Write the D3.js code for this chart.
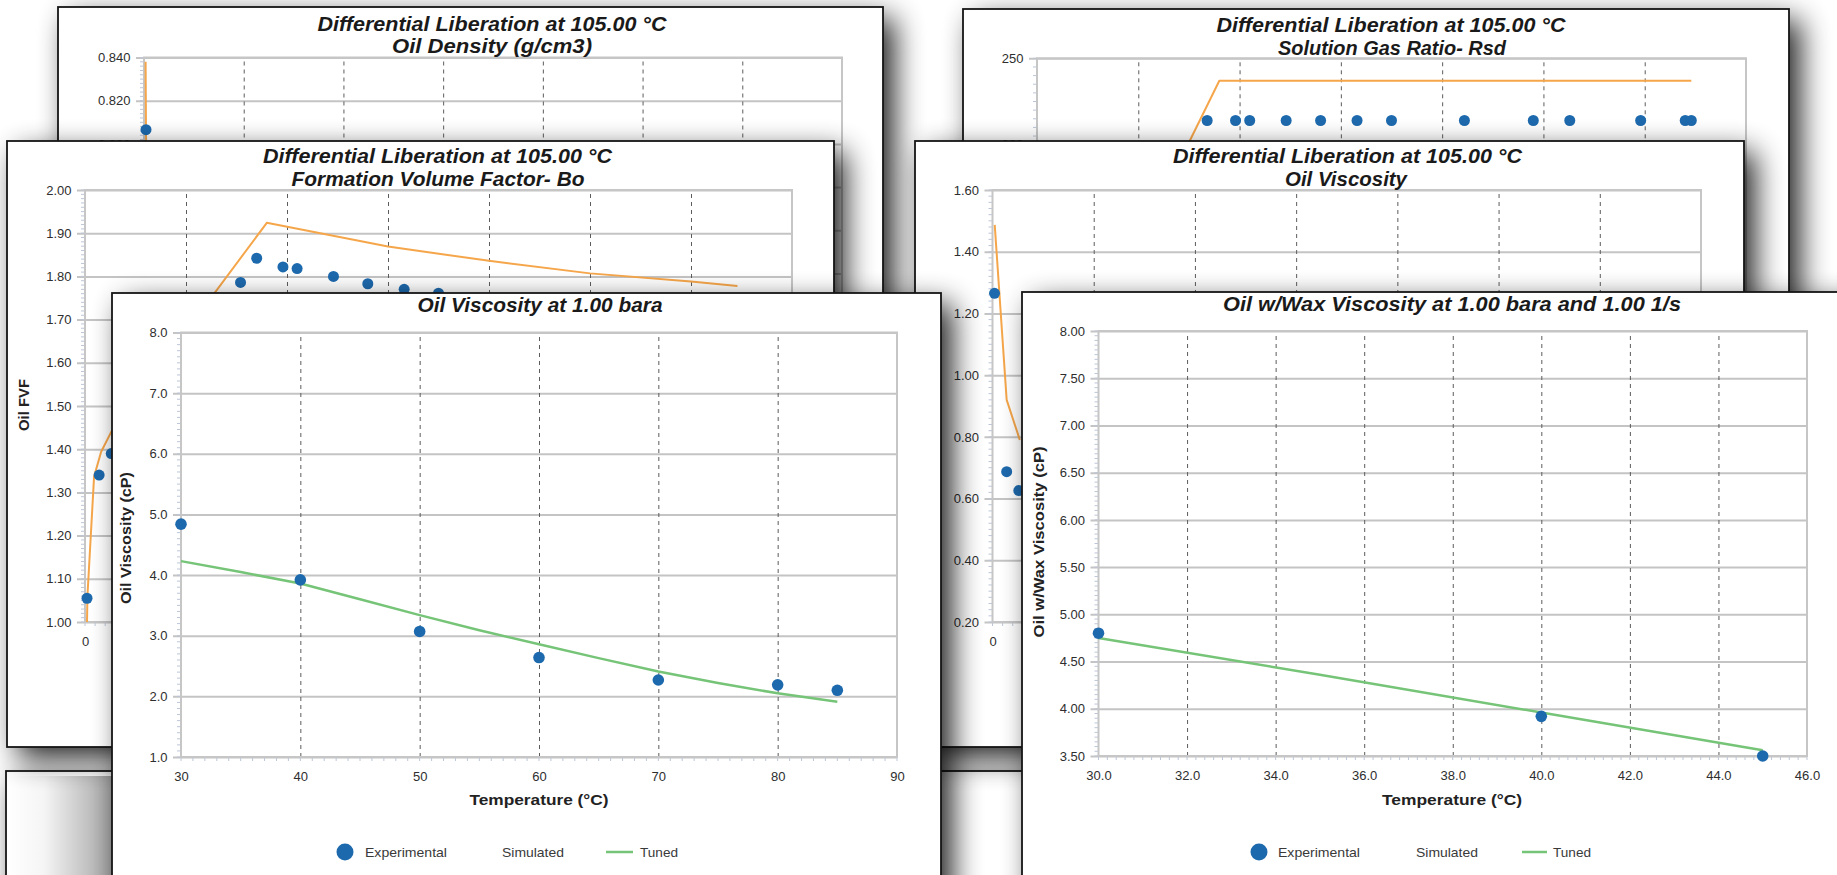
<!DOCTYPE html>
<html><head><meta charset="utf-8">
<script src="https://cdn.jsdelivr.net/npm/d3@7"></script>
<style>
html,body{margin:0;padding:0;background:#fff;overflow:hidden}
svg{display:block}
</style></head><body>
<svg id="c" width="1837" height="875"></svg>
<script>
// ================= DATA =================
// Differential liberation (x = pressure, bara)
const pressureTicks = [0, 50, 100, 150, 200, 250, 300, 350];

const densityTicks = [0.64, 0.66, 0.68, 0.70, 0.72, 0.74, 0.76, 0.78, 0.80, 0.82, 0.84];
const densityExpP = [1];
const densityExpV = [0.8066];
const densitySimP = [0.8, 1.3];
const densitySimV = [0.838, 0.760];

const boTicks = [1.0, 1.1, 1.2, 1.3, 1.4, 1.5, 1.6, 1.7, 1.8, 1.9, 2.0];
const boExpP = [1, 7, 13, 77, 85, 98, 105, 123, 140, 158, 175];
const boExpV = [1.055, 1.34, 1.39, 1.786, 1.842, 1.822, 1.818, 1.800, 1.783, 1.770, 1.761];
const boSimP = [1, 1.2, 4.5, 8, 13, 90, 150, 200, 250, 300, 323];
const boSimV = [1.00, 1.06, 1.337, 1.394, 1.44, 1.924, 1.869, 1.836, 1.807, 1.788, 1.778];

const rsdTicks = [0, 50, 100, 150, 200, 250];
const rsdExpP = [84, 98, 105, 123, 140, 158, 175, 211, 245, 263, 298, 320, 323];
const rsdExpV = [214, 214, 214, 214, 214, 214, 214, 214, 214, 214, 214, 214, 214];
const rsdSimP = [1, 90, 323];
const rsdSimV = [25, 237, 237];

const dlViscTicks = [0.2, 0.4, 0.6, 0.8, 1.0, 1.2, 1.4, 1.6];
const dlViscExpP = [1, 7, 13];
const dlViscExpV = [1.265, 0.687, 0.626];
const dlViscSimP = [1.1, 7, 13.5];
const dlViscSimV = [1.487, 0.92, 0.79];

// Oil viscosity at 1.00 bara
const viscTempTicks = [30, 40, 50, 60, 70, 80, 90];
const viscTicks = [1, 2, 3, 4, 5, 6, 7, 8];
const viscExpT = [30, 40, 50, 60, 70, 80, 85];
const viscExpV = [4.84, 3.92, 3.07, 2.64, 2.27, 2.19, 2.10];
const viscTunedT = [30, 35, 40, 45, 50, 55, 60, 65, 70, 75, 80, 85];
const viscTunedV = [4.23, 4.05, 3.86, 3.60, 3.34, 3.09, 2.86, 2.63, 2.41, 2.22, 2.05, 1.91];

// Oil w/Wax viscosity
const waxTempTicks = [30, 32, 34, 36, 38, 40, 42, 44, 46];
const waxTicks = [3.5, 4.0, 4.5, 5.0, 5.5, 6.0, 6.5, 7.0, 7.5, 8.0];
const waxExpT = [30, 40, 45];
const waxExpV = [4.80, 3.92, 3.50];
const waxTunedT = [30, 35, 40, 45];
const waxTunedV = [4.75, 4.36, 3.96, 3.56];

const legendLabels = ["Experimental", "Simulated", "Tuned"];
const dlTitle = "Differential Liberation at 105.00 \u00B0C";

// ================= STYLE =================
const FONT = '"Liberation Sans", Arial, Helvetica, sans-serif';
const ORANGE = '#f6a64a', BLUE = '#1d69ad', GREEN = '#76c477';

const svg = d3.select('#c');
const defs = svg.append('defs');
const f = defs.append('filter').attr('id', 'shadow')
  .attr('x', '-20%').attr('y', '-20%').attr('width', '150%').attr('height', '150%');
f.append('feGaussianBlur').attr('in', 'SourceAlpha').attr('stdDeviation', 15).attr('result', 'b');
f.append('feOffset').attr('in', 'b').attr('dx', 11).attr('dy', 11).attr('result', 'o');
f.append('feComponentTransfer').attr('in', 'o').attr('result', 's')
  .append('feFuncA').attr('type', 'linear').attr('slope', 0.88);
const fm = f.append('feMerge');
fm.append('feMergeNode').attr('in', 's');
fm.append('feMergeNode').attr('in', 'SourceGraphic');

const lg = defs.append('linearGradient').attr('id', 'leftShade').attr('x1', 0).attr('x2', 1).attr('y1', 0).attr('y2', 0);
lg.append('stop').attr('offset', '0%').attr('stop-color', '#000').attr('stop-opacity', 0);
lg.append('stop').attr('offset', '35%').attr('stop-color', '#000').attr('stop-opacity', 0.04);
lg.append('stop').attr('offset', '100%').attr('stop-color', '#000').attr('stop-opacity', 0.36);

function zip(xs, ys) { return xs.map((v, i) => [v, ys[i]]); }

function drawPanel(o) {
  const g = svg.append('g');
  const [fx, fy, fw, fh] = o.frame;
  g.append('rect').attr('x', fx).attr('y', fy).attr('width', fw).attr('height', fh)
    .attr('fill', '#fff').attr('filter', 'url(#shadow)');
  const [l, t, r, b] = o.plot;
  const x = d3.scaleLinear().domain(o.xDomain).range([l, r]);
  const y = d3.scaleLinear().domain(o.yDomain).range([b, t]);

  // y axis + horizontal grid
  const ya = g.append('g').attr('transform', `translate(${l},0)`)
    .call(d3.axisLeft(y).tickValues(o.yTicks).tickFormat(d3.format(o.yFormat))
      .tickSizeInner(-(r - l)).tickSizeOuter(0).tickPadding(13.5));
  ya.select('.domain').remove();
  ya.selectAll('.tick line').attr('x1', -8).attr('stroke', '#c4c4c4').attr('stroke-width', 2);
  ya.selectAll('.tick text').attr('fill', '#2e2e2e').style('font-size', '13px').style('font-family', FONT);

  // x axis + vertical dashed grid
  const xa = g.append('g').attr('transform', `translate(0,${b})`)
    .call(d3.axisBottom(x).tickValues(o.xTicks).tickFormat(d3.format(o.xFormat))
      .tickSizeInner(-(b - t)).tickSizeOuter(0).tickPadding(15));
  xa.select('.domain').remove();
  const nx = o.xTicks.length;
  xa.selectAll('.tick line').attr('stroke', '#5c5c5c').attr('stroke-width', 1)
    .attr('stroke-dasharray', '4,4')
    .attr('display', (d, i) => (i === 0 || i === nx - 1) ? 'none' : null);
  xa.selectAll('.tick text').attr('fill', '#2e2e2e').style('font-size', '13px').style('font-family', FONT);

  // minor ticks
  const ys = o.yTicks[1] - o.yTicks[0];
  const yMinor = d3.range(0, Math.round((o.yDomain[1] - o.yDomain[0]) / ys * 10) + 1).map(i => o.yDomain[0] + i * ys / 10);
  g.append('g').selectAll('line').data(yMinor).join('line')
    .attr('x1', l - 4).attr('x2', l).attr('y1', d => y(d)).attr('y2', d => y(d))
    .attr('stroke', '#bcc6d8').attr('stroke-width', 1);
  const xs = o.xTicks[1] - o.xTicks[0];
  const xMinor = d3.range(0, Math.round((o.xDomain[1] - o.xDomain[0]) / xs * 10) + 1).map(i => o.xDomain[0] + i * xs / 10);
  g.append('g').selectAll('line').data(xMinor).join('line')
    .attr('y1', b).attr('y2', b + 4).attr('x1', d => x(d)).attr('x2', d => x(d))
    .attr('stroke', '#bcc6d8').attr('stroke-width', 1);

  // plot border
  g.append('rect').attr('x', l).attr('y', t).attr('width', r - l).attr('height', b - t)
    .attr('fill', 'none').attr('stroke', '#c6c6c6').attr('stroke-width', 2);

  // series
  const line = d3.line().x(d => x(d[0])).y(d => y(d[1]));
  o.lines.forEach(s => {
    g.append('path').datum(zip(s.xs, s.ys)).attr('d', line)
      .attr('fill', 'none').attr('stroke', s.color).attr('stroke-width', s.width || 2)
      .attr('stroke-linejoin', 'round');
  });
  o.dots.forEach(s => {
    g.append('g').selectAll('circle').data(zip(s.xs, s.ys)).join('circle')
      .attr('cx', d => x(d[0])).attr('cy', d => y(d[1])).attr('r', s.r || 5.5).attr('fill', BLUE);
  });

  // titles
  o.titles.forEach(tt => {
    g.append('text').attr('x', tt.cx).attr('y', tt.y).attr('text-anchor', 'middle')
      .attr('textLength', tt.len).attr('lengthAdjust', 'spacingAndGlyphs')
      .style('font-family', FONT).style('font-size', '21px').style('font-weight', 'bold')
      .style('font-style', 'italic').attr('fill', '#1a1a1a').text(tt.text);
  });
  if (o.yTitle) {
    g.append('text').attr('transform', `translate(${o.yTitle.x},${o.yTitle.cy}) rotate(-90)`)
      .attr('text-anchor', 'middle').attr('dy', '0.35em')
      .attr('textLength', o.yTitle.len).attr('lengthAdjust', 'spacingAndGlyphs')
      .style('font-family', FONT).style('font-size', '15px').style('font-weight', 'bold')
      .attr('fill', '#222').text(o.yTitle.text);
  }
  if (o.xTitle) {
    g.append('text').attr('x', o.xTitle.cx).attr('y', o.xTitle.cy).attr('dy', '0.35em')
      .attr('text-anchor', 'middle')
      .attr('textLength', o.xTitle.len).attr('lengthAdjust', 'spacingAndGlyphs')
      .style('font-family', FONT).style('font-size', '15px').style('font-weight', 'bold')
      .attr('fill', '#222').text(o.xTitle.text);
  }
  if (o.legend) {
    const L = o.legend, lgG = g.append('g');
    lgG.append('circle').attr('cx', L.circle).attr('cy', L.y).attr('r', 8.5).attr('fill', BLUE);
    lgG.append('line').attr('x1', L.line[0]).attr('x2', L.line[1]).attr('y1', L.y).attr('y2', L.y)
      .attr('stroke', GREEN).attr('stroke-width', 2.5);
    legendLabels.forEach((txt, i) => {
      lgG.append('text').attr('x', L.text[i]).attr('y', L.y).attr('dy', '0.35em')
        .attr('textLength', L.len[i]).attr('lengthAdjust', 'spacingAndGlyphs')
        .style('font-family', FONT).style('font-size', '13px').attr('fill', '#3a3a3a').text(txt);
    });
  }
  g.append('rect').attr('x', fx).attr('y', fy).attr('width', fw).attr('height', fh)
    .attr('fill', 'none').attr('stroke', '#151515').attr('stroke-width', 1.8);
}

// ---- back row ----
drawPanel({
  frame: [58, 7, 825, 690], plot: [144, 57.5, 842, 489.5],
  xDomain: [0, 350], xTicks: pressureTicks, xFormat: 'd',
  yDomain: [0.64, 0.84], yTicks: densityTicks, yFormat: '.3f',
  lines: [{xs: densitySimP, ys: densitySimV, color: ORANGE}],
  dots: [{xs: densityExpP, ys: densityExpV}],
  titles: [{text: dlTitle, cx: 492, y: 31, len: 349}, {text: 'Oil Density (g/cm3)', cx: 492, y: 53, len: 200}]
});
drawPanel({
  frame: [963, 9, 826, 690], plot: [1037, 58.3, 1746, 490.3],
  xDomain: [0, 350], xTicks: pressureTicks, xFormat: 'd',
  yDomain: [0, 250], yTicks: rsdTicks, yFormat: 'd',
  lines: [{xs: rsdSimP, ys: rsdSimV, color: ORANGE}],
  dots: [{xs: rsdExpP, ys: rsdExpV}],
  titles: [{text: dlTitle, cx: 1391, y: 32, len: 349}, {text: 'Solution Gas Ratio- Rsd', cx: 1392, y: 55, len: 228}]
});

// bottom hidden panel
svg.append('rect').attr('x', 6).attr('y', 771).attr('width', 1200).attr('height', 200)
  .attr('fill', '#fff').attr('stroke', '#151515').attr('stroke-width', 1.8).attr('filter', 'url(#shadow)');
svg.append('rect').attr('x', 7).attr('y', 776).attr('width', 106).attr('height', 100).attr('fill', 'url(#leftShade)');

// ---- middle row ----
drawPanel({
  frame: [7, 141, 827, 606], plot: [85, 190, 792, 622],
  xDomain: [0, 350], xTicks: pressureTicks, xFormat: 'd',
  yDomain: [1.0, 2.0], yTicks: boTicks, yFormat: '.2f',
  lines: [{xs: boSimP, ys: boSimV, color: ORANGE}],
  dots: [{xs: boExpP, ys: boExpV}],
  titles: [{text: dlTitle, cx: 437.5, y: 163, len: 349}, {text: 'Formation Volume Factor- Bo', cx: 438, y: 186, len: 293}],
  yTitle: {text: 'Oil FVF', x: 23.5, cy: 405, len: 52}
});
drawPanel({
  frame: [915, 141, 829, 606], plot: [992.5, 190, 1701, 622],
  xDomain: [0, 350], xTicks: pressureTicks, xFormat: 'd',
  yDomain: [0.2, 1.6], yTicks: dlViscTicks, yFormat: '.2f',
  lines: [{xs: dlViscSimP, ys: dlViscSimV, color: ORANGE}],
  dots: [{xs: dlViscExpP, ys: dlViscExpV}],
  titles: [{text: dlTitle, cx: 1347.5, y: 163, len: 349}, {text: 'Oil Viscosity', cx: 1346, y: 186, len: 122}]
});

// ---- front row ----
drawPanel({
  frame: [112, 293, 829, 650], plot: [181, 332.5, 897, 757],
  xDomain: [30, 90], xTicks: viscTempTicks, xFormat: 'd',
  yDomain: [1, 8], yTicks: viscTicks, yFormat: '.1f',
  lines: [{xs: viscTunedT, ys: viscTunedV, color: GREEN, width: 2.5}],
  dots: [{xs: viscExpT, ys: viscExpV, r: 5.8}],
  titles: [{text: 'Oil Viscosity at 1.00 bara', cx: 540, y: 312, len: 245}],
  yTitle: {text: 'Oil Viscosity (cP)', x: 126, cy: 538, len: 132},
  xTitle: {text: 'Temperature (\u00B0C)', cx: 539, cy: 800, len: 139},
  legend: {y: 852, circle: 345, text: [365, 502, 640], len: [82, 62, 38], line: [606, 633]}
});
drawPanel({
  frame: [1022, 292, 900, 650], plot: [1098.5, 331, 1807, 756],
  xDomain: [30, 46], xTicks: waxTempTicks, xFormat: '.1f',
  yDomain: [3.5, 8.0], yTicks: waxTicks, yFormat: '.2f',
  lines: [{xs: waxTunedT, ys: waxTunedV, color: GREEN, width: 2.5}],
  dots: [{xs: waxExpT, ys: waxExpV, r: 5.8}],
  titles: [{text: 'Oil w/Wax Viscosity at 1.00 bara and 1.00 1/s', cx: 1452, y: 311, len: 458}],
  yTitle: {text: 'Oil w/Wax Viscosity (cP)', x: 1039, cy: 542, len: 191},
  xTitle: {text: 'Temperature (\u00B0C)', cx: 1452, cy: 800, len: 140},
  legend: {y: 852, circle: 1259, text: [1278, 1416, 1553], len: [82, 62, 38], line: [1522, 1547]}
});
</script>
</body></html>
